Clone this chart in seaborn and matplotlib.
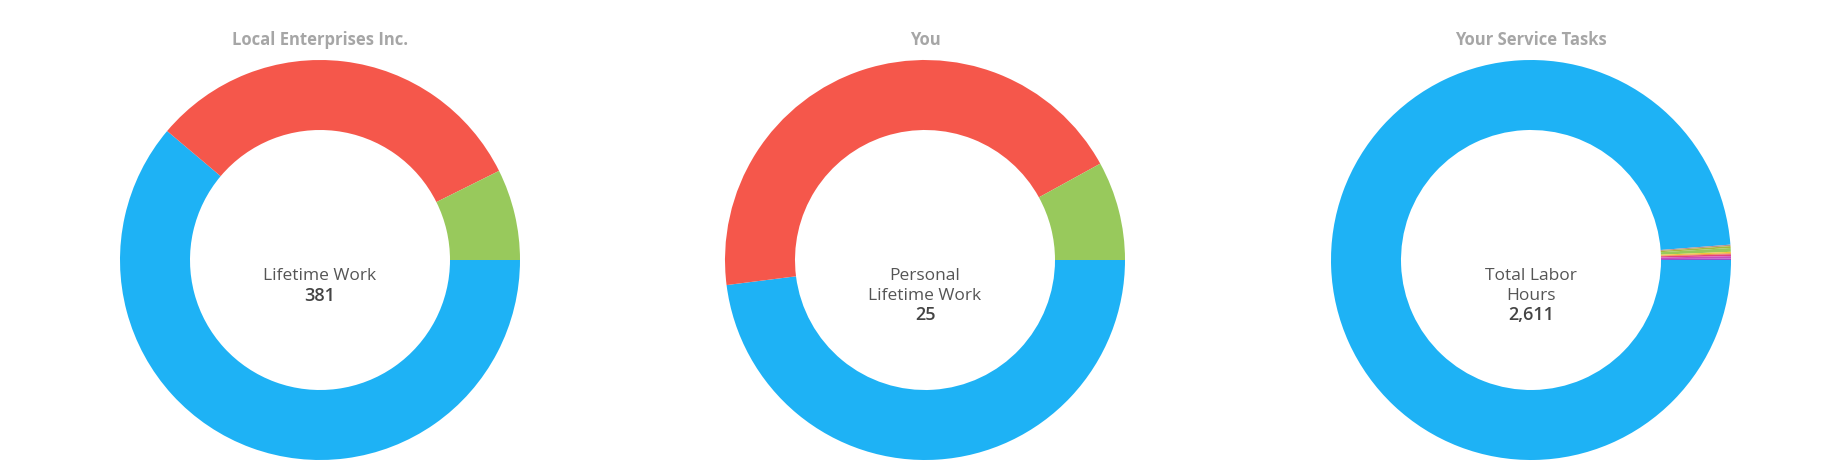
import matplotlib
matplotlib.use("Agg")
import matplotlib.pyplot as plt
import seaborn as sns

# chart data
titles = ["Local Enterprises Inc.", "You", "Your Service Tasks"]
center_labels = ["Lifetime Work", "Personal\nLifetime Work", "Total Labor\nHours"]
totals = ["381", "25", "2,611"]

company_values = [233, 120, 28]
you_values = [12, 11, 2]
task_values = [2579, 3, 4, 8, 3, 2, 4, 5, 3]

base_colors = ["#1EB2F5", "#F5574B", "#98C95C"]
task_colors = ["#1EB2F5", "#B8928C", "#A9B83C", "#98C95C", "#F2C43A",
               "#F0883A", "#E5457A", "#C94CBE", "#9B4FC7"]

sns.set_theme(style="white")
plt.rcParams["font.family"] = ["Open Sans", "DejaVu Sans"]

W, H = 1826, 473
fig = plt.figure(figsize=(W / 100, H / 100), dpi=100)
fig.patch.set_facecolor("white")

centers = [320, 925, 1531]
cy, r = 260, 200
series = [(company_values, base_colors), (you_values, base_colors), (task_values, task_colors)]

for i, (vals, cols) in enumerate(series):
    cx = centers[i]
    ax = fig.add_axes([(cx - r) / W, (H - cy - r) / H, 2 * r / W, 2 * r / H])
    ax.pie(vals, colors=cols, startangle=0, counterclock=False,
           wedgeprops=dict(width=0.35, linewidth=0, antialiased=True))
    ax.set_xlim(-1, 1)
    ax.set_ylim(-1, 1)
    ax.set_aspect("equal")
    ax.axis("off")

    # title above each donut
    fig.text(cx / W, 1 - 40 / H, titles[i], ha="center", va="center",
             fontsize=12, fontweight="bold", color="#A6A6A6")

    # centre text, top line sits at ~276px
    lines = center_labels[i].split("\n")
    y = 276.5
    for ln in lines:
        fig.text(cx / W, 1 - y / H, ln, ha="center", va="center",
                 fontsize=12.5, color="#555555")
        y += 19.5
    fig.text(cx / W, 1 - y / H, totals[i], ha="center", va="center",
             fontsize=13, fontweight="semibold", color="#444444")

fig.savefig("out.png", dpi=100, facecolor="white")
